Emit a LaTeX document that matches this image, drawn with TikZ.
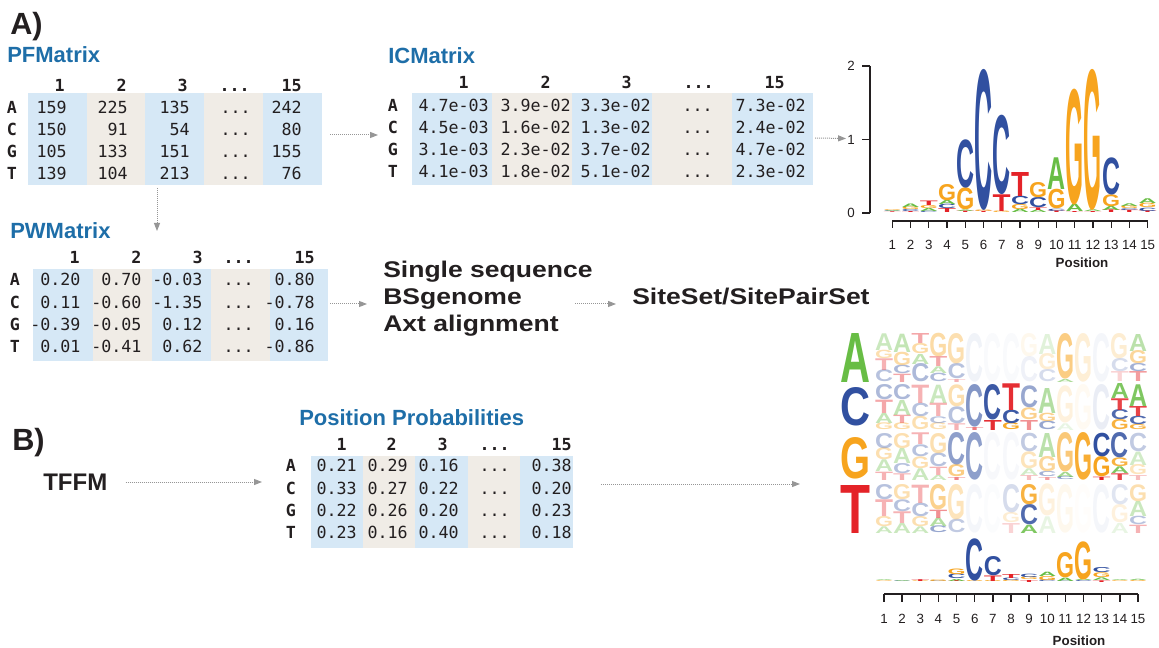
\documentclass[tikz,border=0pt]{standalone}
\usepackage{fontspec}
\setmainfont{Liberation Sans}
\newfontfamily\monofam{DejaVu Sans Mono}
\usetikzlibrary{arrows.meta,fit}

\newlength\px \setlength\px{0.75pt}
\newlength\glyphw \setlength\glyphw{18\px}

\definecolor{ink}{RGB}{35,31,32}
\definecolor{titleblue}{RGB}{30,110,168}
\definecolor{cellblue}{RGB}{214,232,246}
\definecolor{cellbeige}{RGB}{240,236,230}
\definecolor{arrowgray}{RGB}{150,150,150}
\definecolor{ntA}{RGB}{104,189,69}
\definecolor{ntC}{RGB}{49,80,160}
\definecolor{ntG}{RGB}{247,164,30}
\definecolor{ntT}{RGB}{228,35,40}

\newcommand\ellip{...}

% alternating column backgrounds of a printed matrix
\newcommand\colbands[3]{%
  \foreach \a/\b [count=\k] in {#3}{%
    \ifodd\k \def\bandc{cellblue}\else \def\bandc{cellbeige}\fi
    \path[fill=\bandc] (\a,#1) rectangle (\b,#2);
  }}
% header row: right edge / text
\newcommand\hrow[3]{%
  \foreach \xr/\v [count=\k] in {#3}{\node[hcell] (#1-\k) at (\xr,#2) {\v};}}
% body row: name, baseline, label x, label, right edge / value
\newcommand\mrow[5]{%
  \node[rowlab] (#1) at (#3,#2) {#4};
  \foreach \xr/\v [count=\k] in {#5}{\node[cell] (#1-\k) at (\xr,#2) {\v};}}
% one logo column: name, x centre, baseline, opacity, letter/height from the bottom up
\newcommand\stk[5]{%
  \xdef\stky{#3}%
  \foreach \ltr/\hgt in {#5}{%
    \node[glyph,opacity=#4,text=nt\ltr] (#1\ltr) at (#2,\stky) {\resizebox{\glyphw}{\hgt\px}{\ltr}};
    \pgfmathsetmacro\stkn{\stky-\hgt}\xdef\stky{\stkn}}}

\begin{document}
\begin{tikzpicture}[x=0.75pt,y=-0.75pt,
  panel/.style={font=\bfseries\fontsize{23}{26}\selectfont,text=ink,inner sep=0pt,anchor=base west},
  title/.style={font=\bfseries\fontsize{16.5}{19}\selectfont,text=titleblue,inner sep=0pt,anchor=base west},
  cell/.style={font=\monofam\fontsize{12.5}{15}\selectfont,text=ink,inner sep=0pt,anchor=base east},
  hcell/.style={cell,font=\monofam\bfseries\fontsize{12.5}{15}\selectfont},
  rowlab/.style={hcell,anchor=base},
  big/.style={font=\bfseries\fontsize{17}{20}\selectfont,text=ink,inner sep=0pt,anchor=base west},
  tffmlab/.style={big,font=\bfseries\fontsize{18}{21}\selectfont},
  frame/.style={inner sep=0pt,outer sep=0pt},
  conn/.style={draw=arrowgray,line width=0.75pt,dash pattern=on 0.75pt off 0.75pt,
    -{Triangle[length=6pt,width=4.5pt,fill=arrowgray]}},
  glyph/.style={inner sep=0pt,outer sep=0pt,anchor=south,font=\bfseries},
  axis/.style={draw=ink,line width=1pt},
  axlab/.style={font=\fontsize{10}{12}\selectfont,text=ink,inner sep=0pt},
  axtitle/.style={font=\bfseries\fontsize{10}{12}\selectfont,text=ink,inner sep=0pt}]
\useasboundingbox (0,0) rectangle (1159,648);

% ---------- panel A ----------
\node[panel] (pA) at (10,35) {A)};

% PFMatrix
\node[title] (pftitle) at (7,63) {PFMatrix};
\colbands{93}{185}{28/87,87/145,145/204,204/263,263/322}
\node[frame,fit={(28,93) (322,185)}] (pfbox) {};
\hrow{pfh}{92}{65/1, 127/2, 188/3, 250/\ellip, 302/15}
\mrow{pfA}{113.5}{12}{A}{67/159, 128/225, 190/135, 251/\ellip, 302/242}
\mrow{pfC}{135.5}{12}{C}{67/150, 128/91, 190/54, 251/\ellip, 302/80}
\mrow{pfG}{157.5}{12}{G}{67/105, 128/133, 190/151, 251/\ellip, 302/155}
\mrow{pfT}{179.5}{12}{T}{67/139, 128/104, 190/213, 251/\ellip, 302/76}

% ICMatrix
\node[title] (ictitle) at (388,64) {ICMatrix};
\colbands{93}{185}{412/492,492/572,572/652,652/732,732/813}
\node[frame,fit={(412,93) (813,185)}] (icbox) {};
\hrow{ich}{88.5}{469/1, 551/2, 632/3, 714/\ellip, 785/15}
\mrow{icA}{111.5}{393}{A}{489/4.7e-03, 571/3.9e-02, 651/3.3e-02, 713/\ellip, 806/7.3e-02}
\mrow{icC}{133.5}{393}{C}{489/4.5e-03, 571/1.6e-02, 651/1.3e-02, 713/\ellip, 806/2.4e-02}
\mrow{icG}{155.5}{393}{G}{489/3.1e-03, 571/2.3e-02, 651/3.7e-02, 713/\ellip, 806/4.7e-02}
\mrow{icT}{177.5}{393}{T}{489/4.1e-03, 571/1.8e-02, 651/5.1e-02, 713/\ellip, 806/2.3e-02}

% PWMatrix
\node[title] (pwtitle) at (10,239) {PWMatrix};
\colbands{269}{361}{33/93,93/152,152/211,211/270,270/328}
\node[frame,fit={(33,269) (328,361)}] (pwbox) {};
\hrow{pwh}{263.3}{80/1, 141.7/2, 203/3, 254/\ellip, 315/15}
\mrow{pwA}{286}{15}{A}{80.7/0.20, 141.7/0.70, 202.7/-0.03, 254/\ellip, 315/0.80}
\mrow{pwC}{308.3}{15}{C}{80.7/0.11, 141.7/-0.60, 202.7/-1.35, 254/\ellip, 315/-0.78}
\mrow{pwG}{330.7}{15}{G}{80.7/-0.39, 141.7/-0.05, 202.7/0.12, 254/\ellip, 315/0.16}
\mrow{pwT}{352.3}{15}{T}{80.7/0.01, 141.7/-0.41, 202.7/0.62, 254/\ellip, 315/-0.86}

% scanning targets and result
\node[big] (ss) at (383,278) {\scalebox{1.17}[1]{Single sequence}};
\node[big] (bs) at (383,305) {\scalebox{1.17}[1]{BSgenome}};
\node[big] (axt) at (383,332) {\scalebox{1.17}[1]{Axt alignment}};
\node[big] (site) at (632,305) {\scalebox{1.17}[1]{SiteSet/SitePairSet}};

% information content logo
\draw[axis] (870,66) -- (870,213);
\foreach \yv/\lab in {66/2,139.5/1,213/0}{
  \draw[axis] (862,\yv) -- (870,\yv);
  \node[axlab,anchor=east] (yl\lab) at (855,\yv) {\lab};}
\draw[axis] (892.3,221) -- (1147.7,221);
\foreach \i in {1,...,15}{
  \pgfmathsetmacro\xx{892.3+(\i-1)*18.24}
  \draw[axis] (\xx,221) -- (\xx,228.5);
  \node[axlab] (xa\i) at (\xx,245) {\i};}
\node[axtitle] (posA) at (1082,263) {Position};

\stk{ia1}{892.3}{213}{1}{T/0.7,C/0.7,A/0.8,G/0.8}
\stk{ia2}{910.5}{213}{1}{T/1,C/2,G/2.5,A/3.5}
\stk{ia3}{928.8}{213}{1}{C/1.5,A/3,G/3,T/4.5}
\stk{ia4}{947.0}{213}{1}{T/4,C/4.3,A/4,G/16}
\stk{ia5}{965.3}{213}{1}{T/1.5,A/1.5,G/21.7,C/47.7}
\stk{ia6}{983.5}{213}{1}{T/1.2,G/1.5,C/139}
\stk{ia7}{1001.7}{213}{1}{G/1.5,T/16.7,C/78.3}
\stk{ia8}{1020.0}{213}{1}{A/3.3,G/5,C/8.3,T/24}
\stk{ia9}{1038.2}{213}{1}{A/2.7,T/2.7,C/10,G/15}
\stk{ia10}{1056.5}{213}{1}{T/1.7,C/2.3,G/19.3,A/31.7}
\stk{ia11}{1074.7}{213}{1}{T/1,A/7.3,G/114.3}
\stk{ia12}{1092.9}{213}{1}{T/1,A/1.7,G/139}
\stk{ia13}{1111.2}{213}{1}{T/2.7,A/4,G/11.7,C/36.7}
\stk{ia14}{1129.4}{213}{1}{T/2.3,C/1.7,G/2.7,A/2.7}
\stk{ia15}{1147.7}{213}{1}{T/1.7,C/3.3,G/4.3,A/4.7}

% ---------- panel B ----------
\node[panel] (pB) at (12,450) {B)};
\node[tffmlab] (tffm) at (43,490) {TFFM};

\node[title] (pptitle) at (299,425) {Position Probabilities};
\colbands{456}{548}{311/363,363/415,415/468,468/520,520/573}
\node[frame,fit={(311,456) (573,548)}] (ppbox) {};
\hrow{pph}{450}{347/1, 397/2, 448/3, 510/\ellip, 572/15}
\mrow{ppA}{471.7}{291}{A}{357/0.21, 408/0.29, 459/0.16, 510/\ellip, 572/0.38}
\mrow{ppC}{494}{291}{C}{357/0.33, 408/0.27, 459/0.22, 510/\ellip, 572/0.20}
\mrow{ppG}{516.3}{291}{G}{357/0.22, 408/0.26, 459/0.20, 510/\ellip, 572/0.23}
\mrow{ppT}{538.3}{291}{T}{357/0.23, 408/0.16, 459/0.40, 510/\ellip, 572/0.18}

% TFFM logo: previous nucleotide on the left, one faded logo per row
\node[glyph,text=ntA] (bigA) at (855,382) {\resizebox{30\px}{49\px}{A}};
\node[glyph,text=ntC] (bigC) at (855,426) {\resizebox{30\px}{38\px}{C}};
\node[glyph,text=ntG] (bigG) at (855,479) {\resizebox{30\px}{41\px}{G}};
\node[glyph,text=ntT] (bigT) at (855,533) {\resizebox{30\px}{48\px}{T}};

% row A
\stk{ra1}{884.0}{382}{0.35}{C/11.7,T/11.7,G/8.3,A/16.7}
\stk{ra2}{902.1}{382}{0.4}{T/8.3,C/8.3,G/13.3,A/18.3}
\stk{ra3}{920.3}{382}{0.4}{C/18,A/10,G/10,T/10}
\stk{ra4}{938.4}{382}{0.4}{C/8.3,A/6.7,T/10,G/23.3}
\stk{ra5}{956.6}{382}{0.35}{T/3,C/15,G/30}
\stk{ra6}{974.7}{382}{0.07}{C/48}
\stk{ra7}{992.8}{382}{0.03}{C/48}
\stk{ra8}{1011.0}{382}{0.03}{C/48}
\stk{ra9}{1029.1}{382}{0.08}{C/25,G/23}
\stk{ra10}{1047.3}{382}{0.2}{C/12,G/16,A/20}
\stk{ra11}{1065.4}{382}{0.55}{A/3,G/45}
\stk{ra12}{1083.5}{382}{0.18}{G/48}
\stk{ra13}{1101.7}{382}{0.05}{C/48}
\stk{ra14}{1119.8}{382}{0.2}{T/10,C/13,G/25}
\stk{ra15}{1138.0}{382}{0.45}{T/10,C/8,G/13,A/17}
% row C
\stk{rc1}{884.0}{430}{0.4}{G/6.7,A/10,T/13.3,C/15}
\stk{rc2}{902.1}{430}{0.4}{G/6.7,T/8.3,A/15,C/15}
\stk{rc3}{920.3}{430}{0.35}{G/13.3,C/13.3,T/18.3}
\stk{rc4}{938.4}{430}{0.35}{G/6.7,C/6.7,T/13.3,A/18.3}
\stk{rc5}{956.6}{430}{0.35}{T/6.7,C/16.7,G/21.7}
\stk{rc6}{974.7}{430}{0.6}{T/3,C/42}
\stk{rc7}{992.8}{430}{0.95}{T/10,C/35}
\stk{rc8}{1011.0}{430}{0.95}{G/6.7,C/13.3,T/26.7}
\stk{rc9}{1029.1}{430}{0.5}{T/10,G/11.7,C/21.7}
\stk{rc10}{1047.3}{430}{0.5}{C/8.3,G/8.3,A/25}
\stk{rc11}{1065.4}{430}{0.15}{A/6.7,G/36.7}
\stk{rc12}{1083.5}{430}{0.06}{G/45}
\stk{rc13}{1101.7}{430}{0.1}{C/45}
\stk{rc14}{1119.8}{430}{0.85}{G/10,C/10,T/11.7,A/15}
\stk{rc15}{1138.0}{430}{0.85}{G/5,C/8.3,T/10,A/21.7}
% row G
\stk{rg1}{884.0}{480}{0.35}{T/8.3,A/11.7,G/11.7,C/15}
\stk{rg2}{902.1}{480}{0.35}{T/6.7,C/10,A/15,G/15}
\stk{rg3}{920.3}{480}{0.35}{A/11.7,G/11.7,C/11.7,T/11.7}
\stk{rg4}{938.4}{480}{0.35}{A/5,T/8.3,C/13.3,G/20}
\stk{rg5}{956.6}{480}{0.55}{T/3,G/12,C/32}
\stk{rg6}{974.7}{480}{0.55}{C/47}
\stk{rg7}{992.8}{480}{0.04}{C/47}
\stk{rg8}{1011.0}{480}{0.04}{C/47}
\stk{rg9}{1029.1}{480}{0.3}{T/5,A/6.7,G/16.7,C/18.3}
\stk{rg10}{1047.3}{480}{0.45}{T/3,C/5,G/15,A/24}
\stk{rg11}{1065.4}{480}{0.6}{C/3,A/5,G/39}
\stk{rg12}{1083.5}{480}{0.9}{G/47}
\stk{rg13}{1101.7}{480}{1}{T/3.3,G/20,C/23.3}
\stk{rg14}{1119.8}{480}{0.85}{T/6.7,A/6.7,G/8.7,C/25}
\stk{rg15}{1138.0}{480}{0.3}{T/5,G/10,A/13.3,C/18.3}
% row T
\stk{rt1}{884.0}{533}{0.35}{A/6.7,G/10,T/16.7,C/15}
\stk{rt2}{902.1}{533}{0.35}{A/10,T/11.7,C/11.7,G/15}
\stk{rt3}{920.3}{533}{0.35}{A/6.7,G/10,C/13.3,T/18.3}
\stk{rt4}{938.4}{533}{0.5}{C/6.7,A/8.3,T/8.3,G/25}
\stk{rt5}{956.6}{533}{0.3}{C/13.3,G/35}
\stk{rt6}{974.7}{533}{0.05}{C/48}
\stk{rt7}{992.8}{533}{0.02}{C/48}
\stk{rt8}{1011.0}{533}{0.2}{T/10,G/10,C/28}
\stk{rt9}{1029.1}{533}{0.85}{A/8.3,C/20,G/20}
\stk{rt10}{1047.3}{533}{0.15}{A/16.7,G/31.7}
\stk{rt11}{1065.4}{533}{0.08}{G/48}
\stk{rt12}{1083.5}{533}{0.02}{G/48}
\stk{rt13}{1101.7}{533}{0.05}{C/48}
\stk{rt14}{1119.8}{533}{0.15}{A/10,G/18,C/20}
\stk{rt15}{1138.0}{533}{0.35}{T/8.3,C/8.3,A/15,G/16.7}

% summary logo and its axis
\stk{sb1}{884.0}{582}{1}{G/0.7,A/0.7}
\stk{sb2}{902.1}{582}{1}{C/0.6,A/0.8}
\stk{sb3}{920.3}{582}{1}{G/0.7,T/1.8}
\stk{sb4}{938.4}{582}{1}{C/0.7,G/1.6}
\stk{sb5}{956.6}{582}{1}{T/1,A/2,C/4.5,G/5.5}
\stk{sb6}{974.7}{582}{1}{G/1,C/41.7}
\stk{sb7}{992.8}{582}{1}{G/1,T/5.5,C/19}
\stk{sb8}{1011.0}{582}{1}{G/1.5,C/2.5,T/4}
\stk{sb9}{1029.1}{582}{1}{T/2,G/2.7,C/3.3}
\stk{sb10}{1047.3}{582}{1}{C/1.7,G/4,A/4.3}
\stk{sb11}{1065.4}{582}{1}{C/0.7,A/3.3,G/25}
\stk{sb12}{1083.5}{582}{1}{C/1,A/1.3,G/37.7}
\stk{sb13}{1101.7}{582}{1}{T/1.7,A/2.7,G/4.7,C/5}
\stk{sb14}{1119.8}{582}{1}{G/0.8,A/0.8}
\stk{sb15}{1138.0}{582}{1}{G/1,A/1.2}

\draw[axis] (884,594) -- (1138,594);
\foreach \i in {1,...,15}{
  \pgfmathsetmacro\xx{884+(\i-1)*18.14}
  \draw[axis] (\xx,594) -- (\xx,602);
  \node[axlab] (xb\i) at (\xx,619) {\i};}
\node[axtitle] (posB) at (1079,641) {Position};

% ---------- connectors ----------
\draw[conn] ([shift={(8,-4)}]pfbox.east) -- ([shift={(-34,-4)}]icbox.west);
\draw[conn] ([shift={(-18,3)}]pfbox.south) -- ([shift={(-23.5,-38)}]pwbox.north);
\draw[conn] ([shift={(2,-1)}]icbox.east) -- ([shift={(-1,-1)}]yl1.west);
\draw[conn] ([shift={(2,-11)}]pwbox.east) -- ([shift={(-16,-1)}]bs.base west);
\draw[conn] ([shift={(53,-1)}]bs.base east) -- ([shift={(-16,-1)}]site.base west);
\draw[conn] ([shift={(18,-8)}]tffm.base east) -- ([shift={(-49,-20)}]ppbox.west);
\draw[conn] ([shift={(28,-18)}]ppbox.east) -- ([shift={(-40,5)}]bigG.south west);
\end{tikzpicture}
\end{document}
